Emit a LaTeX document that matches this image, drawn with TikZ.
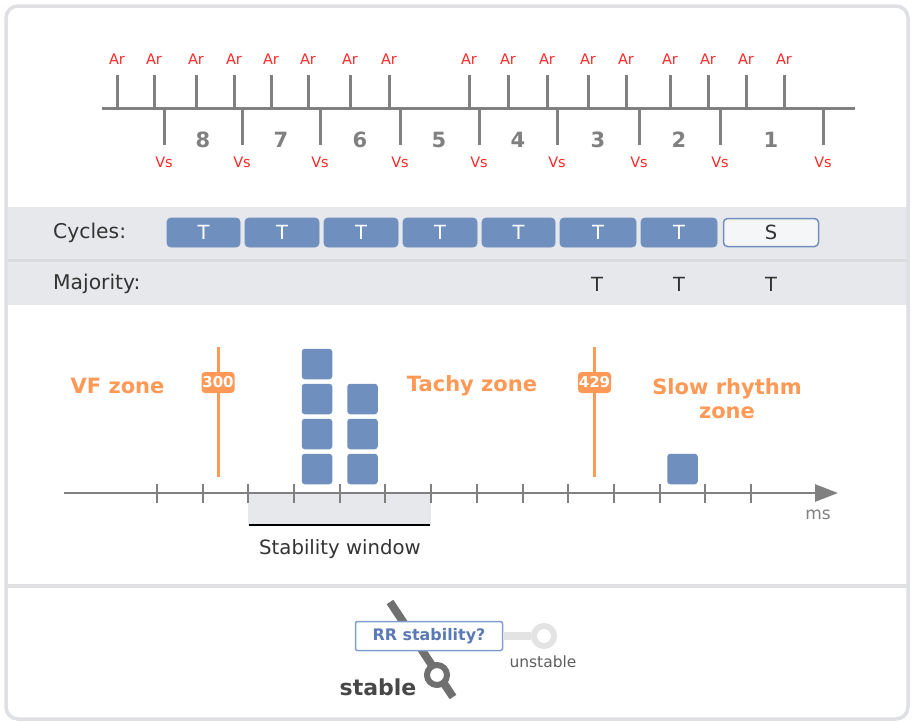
\documentclass[tikz,border=0pt]{standalone}
\usepackage{fontspec}
\setmainfont{DejaVu Sans}
\usetikzlibrary{arrows.meta}
\definecolor{frame}{HTML}{DFE0E3}
\definecolor{band}{HTML}{E7E8EB}
\definecolor{sepc}{HTML}{D9DADD}
\definecolor{axisgray}{HTML}{808080}
\definecolor{markred}{HTML}{FF2A2A}
\definecolor{cyc}{HTML}{6F8FBF}
\definecolor{zone}{HTML}{FF9955}
\definecolor{txt}{HTML}{333333}
\definecolor{swdark}{HTML}{707070}
\definecolor{swlight}{HTML}{E3E3E3}
\definecolor{qblue}{HTML}{5A7AB5}
\definecolor{qborder}{HTML}{809FD0}
\begin{document}
\begin{tikzpicture}[x=1pt,y=-1pt,
  fs/.style={font=\fontsize{#1}{#1}\selectfont},
  marklabel/.style={text=markred, fs=14.5, inner sep=0},
  cycnum/.style={text=axisgray, font=\fontsize{21}{21}\selectfont\bfseries, inner sep=0},
  cycbox/.style={fill=cyc, draw=cyc, line width=0.8, rounded corners=4, minimum height=29, text=white, fs=19.5, inner sep=0},
  sbox/.style={fill=white!60!band, draw=cyc, line width=1.5, rounded corners=4, minimum height=28, text=txt, fs=19.5, inner sep=0},
  rowlabel/.style={text=txt, fs=20.3, anchor=west, inner sep=0},
  blk/.style={fill=cyc, rounded corners=3, minimum width=30.5, minimum height=30.5, inner sep=0},
  zonetxt/.style={text=zone, font=\fontsize{21}{24}\selectfont\bfseries, inner sep=0, align=center},
  thr/.style={fill=zone, rounded corners=3.5, minimum width=33, minimum height=21, text=white, font=\fontsize{15}{15}\selectfont\bfseries, inner sep=0},
  ]
\useasboundingbox (0,0) rectangle (914,723);
\fill[white] (0,0) rectangle (914,723);
% bands
\fill[band] (6,207) rectangle (908,305);
\fill[sepc] (6,258.5) rectangle (908,262);
\draw[sepc!80!white, line width=4] (6,586) -- (908,586);
\draw[frame, line width=3.5, rounded corners=12] (6,6) rectangle (908,719);

% top timeline
\draw[axisgray, line width=3] (102,108) -- (855,108);
\foreach \x [count=\i] in {117,154,196,234,271,308,350,389,469,508,547,588,626,670,708,746,784}{
  \draw[axisgray, line width=3] (\x,108) -- (\x,75);
  \node[marklabel] (ar\i) at (\x,59) {Ar};
}
\foreach \x [count=\i] in {164,242,320,400,479,557,639,720,823}{
  \draw[axisgray, line width=3] (\x,108) -- (\x,145);
  \node[marklabel] (vs\i) at (\x,162) {Vs};
}
\foreach \x/\n in {203/8,281/7,360/6,439/5,518/4,598/3,679/2,771/1}{
  \node[cycnum] (n\n) at (\x,140) {\n};
}

% cycles row
\node[rowlabel] (cyclab) at (53,233) {Cycles:};
\node[cycbox, minimum width=73] (c8) at (203.5,232.5) {T};
\node[cycbox, minimum width=74] (c7) at (282,232.5) {T};
\node[cycbox, minimum width=74] (c6) at (361,232.5) {T};
\node[cycbox, minimum width=74] (c5) at (440,232.5) {T};
\node[cycbox, minimum width=73] (c4) at (518.5,232.5) {T};
\node[cycbox, minimum width=76] (c3) at (598,232.5) {T};
\node[cycbox, minimum width=76] (c2) at (679,232.5) {T};
\node[sbox, minimum width=95] (c1) at (771,232.5) {S};

% majority row
\node[rowlabel] (majlab) at (53,284) {Majority:};
\node[text=txt, fs=19.5, inner sep=0] (m3) at (597,284) {T};
\node[text=txt, fs=19.5, inner sep=0] (m2) at (679,284) {T};
\node[text=txt, fs=19.5, inner sep=0] (m1) at (771,284) {T};

% histogram
\fill[band] (248,493) rectangle (431,525);
\draw[black, line width=2.5] (249,525) -- (430,525);
\node[text=txt, fs=19.7, inner sep=0] (stab) at (340,549) {Stability window};
\draw[axisgray, line width=2.5, -{Triangle[length=23,width=17]}] (64,493) -- (838,493);
\foreach \i in {0,...,13}{
  \draw[axisgray, line width=2] ({157+45.69*\i},484) -- ({157+45.69*\i},503);
}
\node[text=axisgray, fs=17, inner sep=0] (ms) at (818,515) {ms};

\node[blk] (b1) at (317,364) {};
\node[blk] (b2) at (317,399) {};
\node[blk] (b3) at (317,434) {};
\node[blk] (b4) at (317,469) {};
\node[blk] (b5) at (362.5,399) {};
\node[blk] (b6) at (362.5,434) {};
\node[blk] (b7) at (362.5,469) {};
\node[blk] (b8) at (682.5,469) {};

\draw[zone, line width=3] (218,347) -- (218,477);
\node[thr] (t300) at (218,382.5) {300};
\draw[zone, line width=3] (594.5,347) -- (594.5,477);
\node[thr] (t429) at (594.5,382.5) {429};

\node[zonetxt] (vf) at (117.5,386) {VF zone};
\node[zonetxt] (tachy) at (472,386) {Tachy zone};
\node[zonetxt] (slow) at (727,398.5) {Slow rhythm\\zone};

% switch
\coordinate (swtop) at (390,602);
\coordinate (swbot) at (453,697);
\draw[swdark, line width=8] (swtop) -- (swbot);
\node[circle, draw=swdark, line width=6, fill=white, minimum size=20, inner sep=0] (stablering) at (437,675) {};
\node[circle, draw=swlight, line width=6, fill=white, minimum size=20, inner sep=0] (unstring) at (544,636) {};
\node[draw=qborder, line width=1.5, fill=white, rounded corners=2, minimum width=147, minimum height=29, text=qblue, font=\fontsize{15.9}{15.9}\selectfont\bfseries, inner sep=0] (q) at (429,636) {RR stability?};
\draw[swlight, line width=8] (q.east) -- (unstring.west);
\node[text=swdark!85!black, fs=15.5, inner sep=0] (unst) at (543,662) {unstable};
\node[text=txt!90!white, font=\fontsize{22}{22}\selectfont\bfseries, inner sep=0] (st) at (378,687) {stable};
\end{tikzpicture}
\end{document}
